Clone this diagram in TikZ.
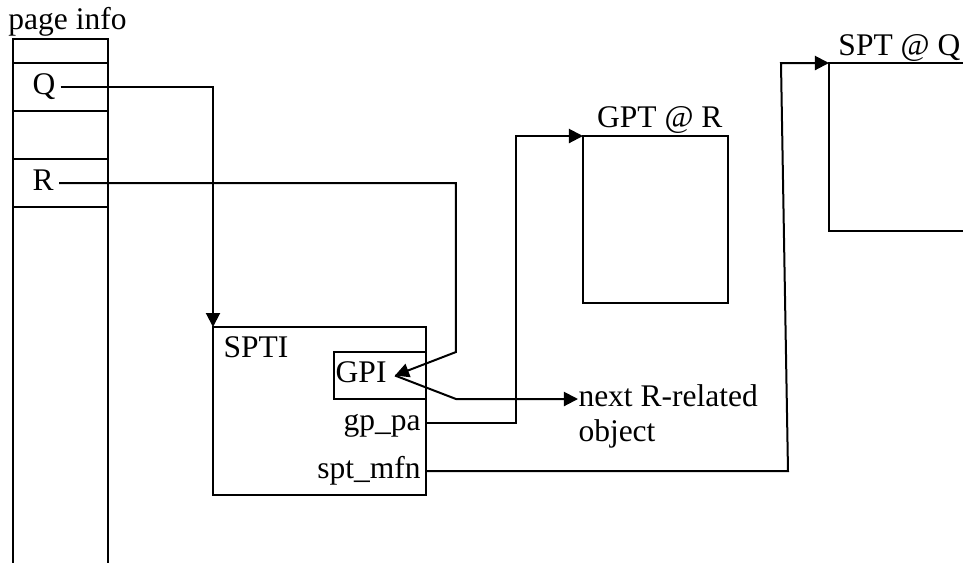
\documentclass[tikz,border=0pt]{standalone}
\usepackage{fontspec}
\setmainfont{Liberation Serif}
\usepackage{tikz}
\usetikzlibrary{arrows.meta, positioning}

\begin{document}
\begin{tikzpicture}[x=0.4pt, y=-0.4pt, font=\fontsize{12.6}{14}\selectfont,
            box/.style={draw, rectangle, line width=0.8pt, inner sep=0pt, outer sep=0pt},
            lbl/.style={inner xsep=2pt, inner ysep=0pt, text height=8.8pt, text depth=3.2pt},
            wire/.style={line width=0.8pt},
            arrow/.style={line width=0.8pt, -{Triangle[length=5.6pt, width=5.6pt]}}]

            \useasboundingbox (0,0) rectangle (963,563);
            \clip (0,0) rectangle (963,563);

            % Nodes
            % page info column
            \node (cell0) [box, minimum width=38pt, minimum height=9.6pt, anchor=north west] at (13,39) {};
            \node (cellq) [box, minimum width=38pt, minimum height=19.2pt, below=0pt of cell0] {};
            \node (cell2) [box, minimum width=38pt, minimum height=19.2pt, below=0pt of cellq] {};
            \node (cellr) [box, minimum width=38pt, minimum height=19.2pt, below=0pt of cell2] {};
            \coordinate (colend) at (0,563);
            \draw [wire] (cellr.south west) -- (cellr.south west |- colend);
            \draw [wire] (cellr.south east) -- (cellr.south east |- colend);
            \node (pinfo) [lbl, inner sep=0pt, anchor=base west] at ([shift={(-5,-10)}]cell0.north west) {page info};
            \node (qtxt) [lbl, anchor=west, xshift=5.6pt] at (cellq.west) {Q};
            \node (rtxt) [lbl, anchor=west, xshift=5.6pt] at (cellr.west) {R};

            % SPTI
            \node (spti) [box, minimum width=85.2pt, minimum height=67.2pt, anchor=north west] at (213,327) {};
            \node (sptilbl) [lbl, inner xsep=4pt, inner ysep=3pt, anchor=north west] at (spti.north west) {SPTI};
            \node (gpibox) [box, minimum width=36.8pt, minimum height=18.8pt, anchor=north east] at ([yshift=-10pt]spti.north east) {};
            \node (gpitxt) [lbl, inner xsep=3.2pt, anchor=east] at ([xshift=-12.4pt]gpibox.east) {GPI};
            \node (gppa) [lbl, anchor=east] at ([yshift=-4.8pt]spti.east) {gp\_pa};
            \node (sptmfn) [lbl, anchor=east] at ([yshift=-24pt]spti.east) {spt\_mfn};

            % GPT and SPT
            \node (gpt) [box, minimum width=58pt, minimum height=66.8pt, anchor=north west] at (583,136) {};
            \node (gptlbl) [lbl, inner sep=0pt, anchor=base east] at ([shift={(-5,-9)}]gpt.north east) {GPT @ R};
            \node (spt) [box, minimum width=80pt, minimum height=67.2pt, anchor=north west] at (829,63) {};
            \node (sptlbl) [lbl, inner sep=0pt, anchor=base west] at ([shift={(9,-8)}]spt.north west) {SPT @ Q};
            \node (nexttxt) [inner sep=0pt, align=left, anchor=north west] at (578,384) {next R-related\\object};

            % Arrows
            % Q -> SPTI
            \draw [arrow] (qtxt.east) -| (spti.north west);
            % R -> GPI
            \coordinate (rbend) at (456,352);
            \draw [arrow] (rtxt.east) -| (rbend) -- (gpitxt.east);
            % GPI -> next object
            \coordinate (gpibend) at (rbend |- gpibox.south);
            \draw [arrow] (gpitxt.east) -- (gpibend) -- (gpibend -| nexttxt.west);
            % gp_pa -> GPT
            \coordinate (gpbend) at (516,136);
            \draw [arrow] (gppa.east) -| (gpbend) -- (gpt.north west);
            % spt_mfn -> SPT
            \coordinate (mfnlow) at (788,471);
            \coordinate (mfnhigh) at (781,63);
            \draw [arrow] (sptmfn.east) -- (mfnlow) -- (mfnhigh) -- (spt.north west);
        \end{tikzpicture}
\end{document}
